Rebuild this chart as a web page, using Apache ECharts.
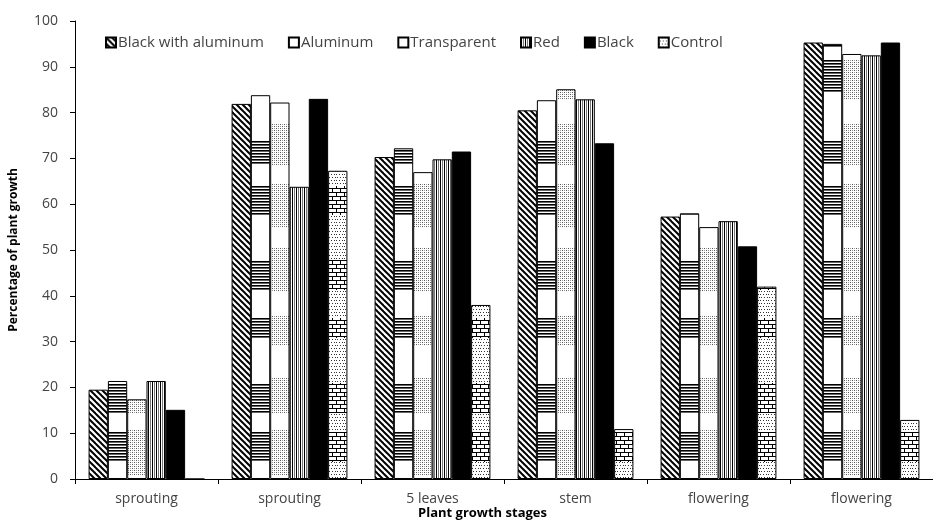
<!DOCTYPE html>
<html>
<head>
<meta charset="utf-8">
<script src="https://cdn.jsdelivr.net/npm/echarts@6/dist/echarts.min.js"></script>
<style>
  html, body { margin: 0; padding: 0; background: #fff; }
  #chart { width: 933px; height: 523px; }
</style>
</head>
<body>
<div id="chart"></div>
<script>
// Plant growth stages and the percentage of growth under each mulch cover
const categories = ['sprouting', 'sprouting', '5 leaves', 'stem', 'flowering', 'flowering'];
const seriesNames = ['Black with aluminum', 'Aluminum', 'Transparent', 'Red', 'Black', 'Control'];
const blackWithAluminum = [19.5, 81.9, 70.3, 80.5, 57.3, 95.3];
const aluminum = [21.4, 83.8, 72.2, 82.7, 58.0, 95.0];
const transparent = [17.4, 82.2, 67.0, 85.1, 55.0, 92.8];
const red = [21.4, 63.8, 69.8, 82.9, 56.3, 92.5];
const black = [15.1, 83.0, 71.5, 73.3, 50.8, 95.3];
const control = [0, 67.3, 38.0, 10.9, 42.0, 12.9];
const yTicks = [0, 10, 20, 30, 40, 50, 60, 70, 80, 90, 100];

const H = 523;
// horizontal bands where the striped fills are dense
const stripeBands = [[28, 46], [60, 93], [140, 163], [186, 215], [260, 290], [318, 338], [383, 413], [432, 462]];
const dotBands = [[28, 46], [60, 100], [123, 165], [183, 228], [248, 292], [315, 345], [378, 413], [430, 476]];

function tile(w, h, draw) {
  const c = document.createElement('canvas');
  c.width = w; c.height = h;
  const ctx = c.getContext('2d');
  ctx.fillStyle = '#fff';
  ctx.fillRect(0, 0, w, h);
  draw(ctx);
  return { image: c, repeat: 'repeat' };
}
function inBands(y, bands) {
  return bands.some(b => y >= b[0] && y < b[1]);
}

// diagonal hatch
const hatchFill = tile(6, 6, ctx => {
  ctx.strokeStyle = '#000';
  ctx.lineWidth = 2;
  for (let k = -1; k <= 1; k++) {
    ctx.beginPath();
    ctx.moveTo(k * 6 - 1, -1);
    ctx.lineTo(k * 6 + 7, 7);
    ctx.stroke();
  }
});
// horizontal stripes in bands
const stripeFill = tile(4, H, ctx => {
  ctx.fillStyle = '#000';
  for (let y = 0; y < H; y += 3) {
    if (inBands(y, stripeBands)) ctx.fillRect(0, y, 4, 1.6);
  }
});
// dotted fill in bands
const dotFill = tile(4, H, ctx => {
  for (let y = 0; y < H; y += 2) {
    if (!inBands(y, dotBands)) continue;
    for (let x = 0; x < 4; x += 2) {
      ctx.fillStyle = ((x + y) % 4 === 0) ? '#555' : '#999';
      ctx.fillRect(x, y, 1, 1);
    }
  }
});
// vertical stripes
const vstripeFill = tile(4, 1, ctx => {
  ctx.fillStyle = '#000';
  ctx.fillRect(0, 0, 1, 1);
  ctx.fillStyle = '#777';
  ctx.fillRect(2, 0, 1, 1);
});
// brick pattern in bands, dots elsewhere
const brickFill = tile(8, H, ctx => {
  for (let y = 0; y < H; y++) {
    if (inBands(y, stripeBands)) {
      const r = y % 4;
      ctx.fillStyle = '#000';
      if (r === 0) ctx.fillRect(0, y, 8, 1);
      else {
        const odd = Math.floor(y / 4) % 2;
        ctx.fillRect(odd ? 4 : 0, y, 1, 1);
      }
    } else if (y % 3 === 0) {
      ctx.fillStyle = '#333';
      const off = (y / 3) % 2 ? 1 : 0;
      for (let x = off; x < 8; x += 3) ctx.fillRect(x, y, 1, 1);
    }
  }
});

const fills = [hatchFill, stripeFill, dotFill, vstripeFill, '#000', brickFill];
const values = [blackWithAluminum, aluminum, transparent, red, black, control];

const chart = echarts.init(document.getElementById('chart'), null, { renderer: 'canvas' });
const labelFont = "'Open Sans', 'DejaVu Sans', sans-serif";

chart.setOption({
  animation: false,
  backgroundColor: '#fff',
  legend: {
    top: 30,
    left: 100,
    itemWidth: 10,
    itemHeight: 10,
    itemGap: 24,
    icon: 'rect',
    textStyle: { fontFamily: labelFont, fontSize: 15, color: '#444', padding: [0, 0, 0, -3] },
    data: seriesNames
  },
  grid: { left: 75, right: -6, top: 21, bottom: 44 },
  xAxis: {
    type: 'category',
    data: categories,
    axisLine: { lineStyle: { color: '#000', width: 1 } },
    axisTick: { show: true, length: 5, lineStyle: { color: '#000' } },
    axisLabel: { margin: 13, fontFamily: labelFont, fontSize: 14, color: '#444' }
  },
  yAxis: {
    type: 'value',
    min: 0,
    max: 100,
    interval: 10,
    axisLine: { show: true, lineStyle: { color: '#000', width: 1 } },
    axisTick: { show: true, length: 5, lineStyle: { color: '#000' } },
    axisLabel: {
      margin: 17, fontFamily: labelFont, fontSize: 14, color: '#444',
      formatter: v => (yTicks.indexOf(v) >= 0 ? String(v) : '')
    },
    splitLine: { show: false },
    name: 'Percentage of plant growth',
    nameLocation: 'middle',
    nameGap: 55,
    nameTextStyle: { fontFamily: labelFont, fontSize: 12, fontWeight: 'bold', color: '#000' }
  },
  graphic: [{
    type: 'text',
    left: 418,
    top: 507,
    style: { text: 'Plant growth stages', fontFamily: labelFont, fontSize: 13, fontWeight: 'bold', fill: '#000' }
  }],
  series: seriesNames.map((name, i) => ({
    name,
    type: 'bar',
    data: values[i],
    barGap: '0%',
    barCategoryGap: '19%',
    itemStyle: { color: fills[i], borderColor: '#000', borderWidth: 1 }
  }))
});
</script>
</body>
</html>
